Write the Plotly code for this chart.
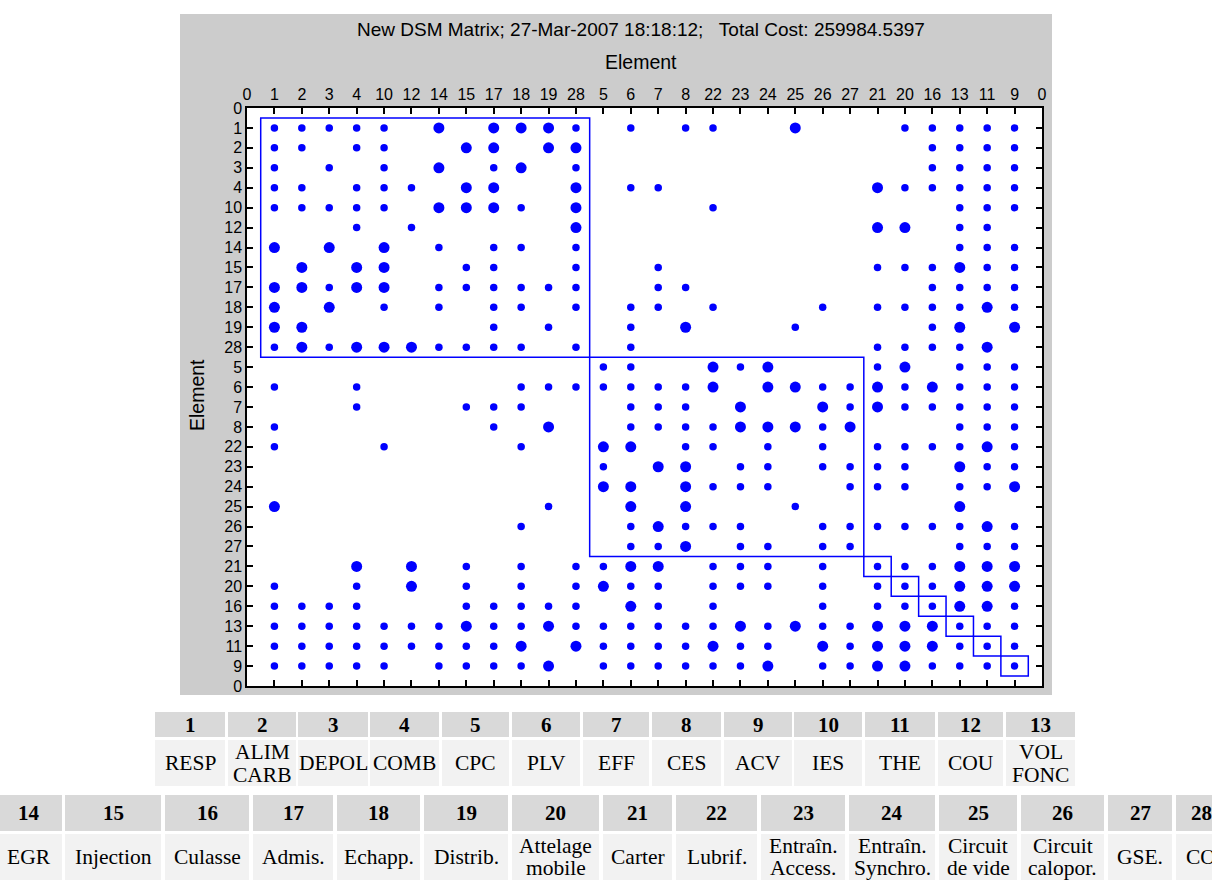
import plotly.graph_objects as go

# ---------------- data ----------------
order = [1, 2, 3, 4, 10, 12, 14, 15, 17, 18, 19, 28, 5, 6, 7, 8, 22, 23, 24, 25, 26, 27, 21, 20, 16, 13, 11, 9]
block_sizes = [12, 10, 1, 1, 1, 1, 1, 1]

# row element -> column elements with a weak (small dot) dependency
small_links = {
    1: [1, 2, 3, 4, 10, 28, 6, 8, 22, 20, 16, 13, 11, 9],
    2: [1, 2, 4, 10, 16, 13, 11, 9],
    3: [1, 3, 10, 17, 28, 16, 13, 11, 9],
    4: [1, 2, 4, 10, 12, 6, 7, 20, 16, 13, 11, 9],
    10: [1, 2, 3, 4, 10, 18, 22, 13, 11, 9],
    12: [4, 12, 13, 11],
    14: [14, 17, 18, 28, 13, 11, 9],
    15: [15, 17, 28, 7, 21, 20, 16, 11, 9],
    17: [3, 14, 15, 17, 18, 19, 28, 7, 8, 16, 13, 11, 9],
    18: [10, 14, 17, 18, 28, 6, 7, 22, 26, 21, 20, 16, 13, 9],
    19: [17, 19, 6, 25, 16],
    28: [1, 3, 14, 15, 17, 18, 28, 6, 21, 20, 16, 13],
    5: [5, 6, 23, 21, 13, 11, 9],
    6: [1, 4, 18, 19, 28, 5, 6, 7, 8, 26, 27, 20, 13, 11, 9],
    7: [4, 15, 17, 18, 6, 7, 8, 27, 20, 16, 13, 11, 9],
    8: [1, 17, 6, 7, 8, 22, 26, 13, 11, 9],
    22: [1, 10, 18, 8, 22, 24, 26, 21, 20, 16, 13, 9],
    23: [5, 23, 24, 26, 27, 21, 20, 11, 9],
    24: [22, 23, 24, 27, 21, 20, 13, 11],
    25: [19, 25],
    26: [18, 6, 8, 22, 23, 26, 27, 21, 20, 16, 13, 9],
    27: [6, 7, 23, 24, 26, 27, 13, 11, 9],
    21: [15, 18, 28, 5, 22, 23, 24, 26, 21, 20, 16],
    20: [1, 4, 15, 18, 28, 6, 7, 22, 23, 24, 26, 21, 20, 16],
    16: [1, 2, 3, 4, 15, 17, 18, 19, 28, 7, 22, 26, 21, 20, 16, 9],
    13: [1, 2, 3, 4, 10, 12, 14, 17, 18, 28, 5, 6, 7, 8, 22, 24, 26, 27, 13, 11, 9],
    11: [1, 2, 3, 4, 10, 12, 14, 15, 17, 5, 6, 7, 8, 23, 24, 27, 13, 11, 9],
    9: [1, 2, 3, 4, 10, 14, 15, 17, 18, 5, 6, 7, 8, 22, 23, 26, 27, 16, 13, 11, 9],
}

# row element -> column elements with a strong (large dot) dependency
large_links = {
    1: [14, 17, 18, 19, 25],
    2: [15, 17, 19, 28],
    3: [14, 18],
    4: [15, 17, 28, 21],
    10: [14, 15, 17, 28],
    12: [28, 21, 20],
    14: [1, 3, 10],
    15: [2, 4, 10, 13],
    17: [1, 2, 4, 10],
    18: [1, 3, 11],
    19: [1, 2, 8, 13, 9],
    28: [2, 4, 10, 12, 11],
    5: [22, 24, 20],
    6: [22, 24, 25, 21, 16],
    7: [23, 26, 21],
    8: [19, 23, 24, 25, 27],
    22: [5, 6, 11],
    23: [7, 8, 13],
    24: [5, 6, 8, 9],
    25: [1, 6, 8, 13],
    26: [7, 11],
    27: [8],
    21: [4, 12, 6, 7, 13, 11, 9],
    20: [12, 5, 13, 11, 9],
    16: [6, 13, 11],
    13: [15, 19, 23, 25, 21, 20, 16],
    11: [18, 28, 22, 26, 21, 20, 16],
    9: [19, 24, 21, 20],
}

title_text = "New DSM Matrix; 27-Mar-2007 18:18:12;   Total Cost: 259984.5397"
axis_title = "Element"

table1_ids = [str(i) for i in range(1, 14)]
table1_names = ["RESP", "ALIM<br>CARB", "DEPOL", "COMB", "CPC", "PLV", "EFF",
                "CES", "ACV", "IES", "THE", "COU", "VOL<br>FONC"]
table2_ids = [str(i) for i in range(14, 29)]
table2_names = ["EGR", "Injection", "Culasse", "Admis.", "Echapp.", "Distrib.",
                "Attelage<br>mobile", "Carter", "Lubrif.", "Entraîn.<br>Access.",
                "Entraîn.<br>Synchro.", "Circuit<br>de vide", "Circuit<br>calopor.",
                "GSE.", "CO"]

# ---------------- layout constants (pixels) ----------------
W, H = 1212, 880
PL, PR, PT, PB = 247, 1042, 108, 686
BLUE = "#0000ff"


def fx(px):
    return (px - PL) / (PR - PL)


def fy(py):
    return (PB - py) / (PB - PT)


pos = {e: i + 1 for i, e in enumerate(order)}
N = len(order)

fig = go.Figure()

for links, size in ((small_links, 7.5), (large_links, 11)):
    xs, ys = [], []
    for r in order:
        for c in links.get(r, []):
            xs.append(pos[c])
            ys.append(pos[r])
    fig.add_trace(go.Scatter(x=xs, y=ys, mode="markers",
                             marker=dict(color=BLUE, size=size, line=dict(width=0)),
                             hoverinfo="skip", showlegend=False))

shapes = []
# grey figure panel and white axes area
shapes.append(dict(type="rect", xref="paper", yref="paper", layer="below",
                   x0=fx(180), x1=fx(1052), y0=fy(695), y1=fy(14),
                   fillcolor="#cccccc", line=dict(width=0)))
shapes.append(dict(type="rect", xref="x", yref="y", layer="below",
                   x0=0, x1=N + 1, y0=0, y1=N + 1,
                   fillcolor="white", line=dict(width=0)))
# cluster boxes
start = 0
for b in block_sizes:
    shapes.append(dict(type="rect", xref="x", yref="y",
                       x0=start + 0.5, x1=start + b + 0.5,
                       y0=start + 0.5, y1=start + b + 0.5,
                       line=dict(color=BLUE, width=1.5), fillcolor="rgba(0,0,0,0)"))
    start += b


def ann(text, px, py, size, family=None, **kw):
    f = dict(size=size, color="black")
    if family:
        f["family"] = family
    d = dict(text=text, x=fx(px), y=fy(py), xref="paper", yref="paper",
             xanchor="center", yanchor="middle", showarrow=False, font=f)
    d.update(kw)
    return d


annotations = [
    ann(title_text, 641, 29, 19),
    ann(axis_title, 641, 62, 19.5),
    ann(axis_title, 197, 395, 19.5, textangle=-90),
]

HEAD = "#d9d9d9"
CELL = "#f2f2f2"
SERIF = "Liberation Serif, Times New Roman, serif"
LINE_GAP = 23

t1_cols = [(155, 225), (228, 296), (298, 368), (370, 439), (442, 509), (512, 580),
           (583, 649), (652, 721), (724, 792), (794, 862), (865, 935), (938, 1003),
           (1006, 1075)]
t1_head_y, t1_cell_y = (712, 737), (740, 786)
t2_cols = [(-5, 62), (65, 161), (165, 249), (253, 333), (337, 420), (424, 508),
           (512, 599), (603, 672), (676, 757), (761, 845), (849, 935), (939, 1017),
           (1021, 1104), (1108, 1172), (1176, 1226)]
t2_head_y, t2_cell_y = (795, 831), (834, 890)


def add_table(cols, head_y, cell_y, ids, names):
    for (x0, x1), i_txt, n_txt in zip(cols, ids, names):
        shapes.append(dict(type="rect", xref="paper", yref="paper", layer="below",
                           x0=fx(x0), x1=fx(x1), y0=fy(head_y[1]), y1=fy(head_y[0]),
                           fillcolor=HEAD, line=dict(width=0)))
        shapes.append(dict(type="rect", xref="paper", yref="paper", layer="below",
                           x0=fx(x0), x1=fx(x1), y0=fy(cell_y[1]), y1=fy(cell_y[0]),
                           fillcolor=CELL, line=dict(width=0)))
        xc = (x0 + x1) / 2
        annotations.append(ann("<b>" + i_txt + "</b>", xc,
                               (head_y[0] + head_y[1]) / 2, 21, SERIF))
        yc = (cell_y[0] + min(cell_y[1], 880)) / 2
        lines = n_txt.split("<br>")
        y0 = yc - LINE_GAP * (len(lines) - 1) / 2
        for k, line in enumerate(lines):
            annotations.append(ann(line, xc, y0 + k * LINE_GAP, 21.5, SERIF))


add_table(t1_cols, t1_head_y, t1_cell_y, table1_ids, table1_names)
add_table(t2_cols, t2_head_y, t2_cell_y, table2_ids, table2_names)

ticktext = ["0"] + [str(e) for e in order] + ["0"]
tickvals = list(range(N + 2))

axis_common = dict(tickvals=tickvals, ticktext=ticktext,
                   ticks="inside", ticklen=6, tickwidth=1.5, tickcolor="black",
                   showline=True, linecolor="black", linewidth=1.5, mirror="ticks",
                   showgrid=False, zeroline=False, fixedrange=True,
                   tickfont=dict(size=16, color="black"))

fig.update_layout(
    width=W, height=H,
    margin=dict(l=PL, r=W - PR, t=PT, b=H - PB, pad=0),
    paper_bgcolor="white", plot_bgcolor="white",
    font=dict(family="Liberation Sans, Arial, sans-serif", size=16, color="black"),
    xaxis=dict(axis_common, range=[0, N + 1], side="top"),
    yaxis=dict(axis_common, range=[N + 1, 0]),
    shapes=shapes, annotations=annotations, showlegend=False,
)

fig.write_html("out.html", config={"displayModeBar": False},
               post_script="document.body.style.margin='0px';document.body.style.overflow='hidden';")
